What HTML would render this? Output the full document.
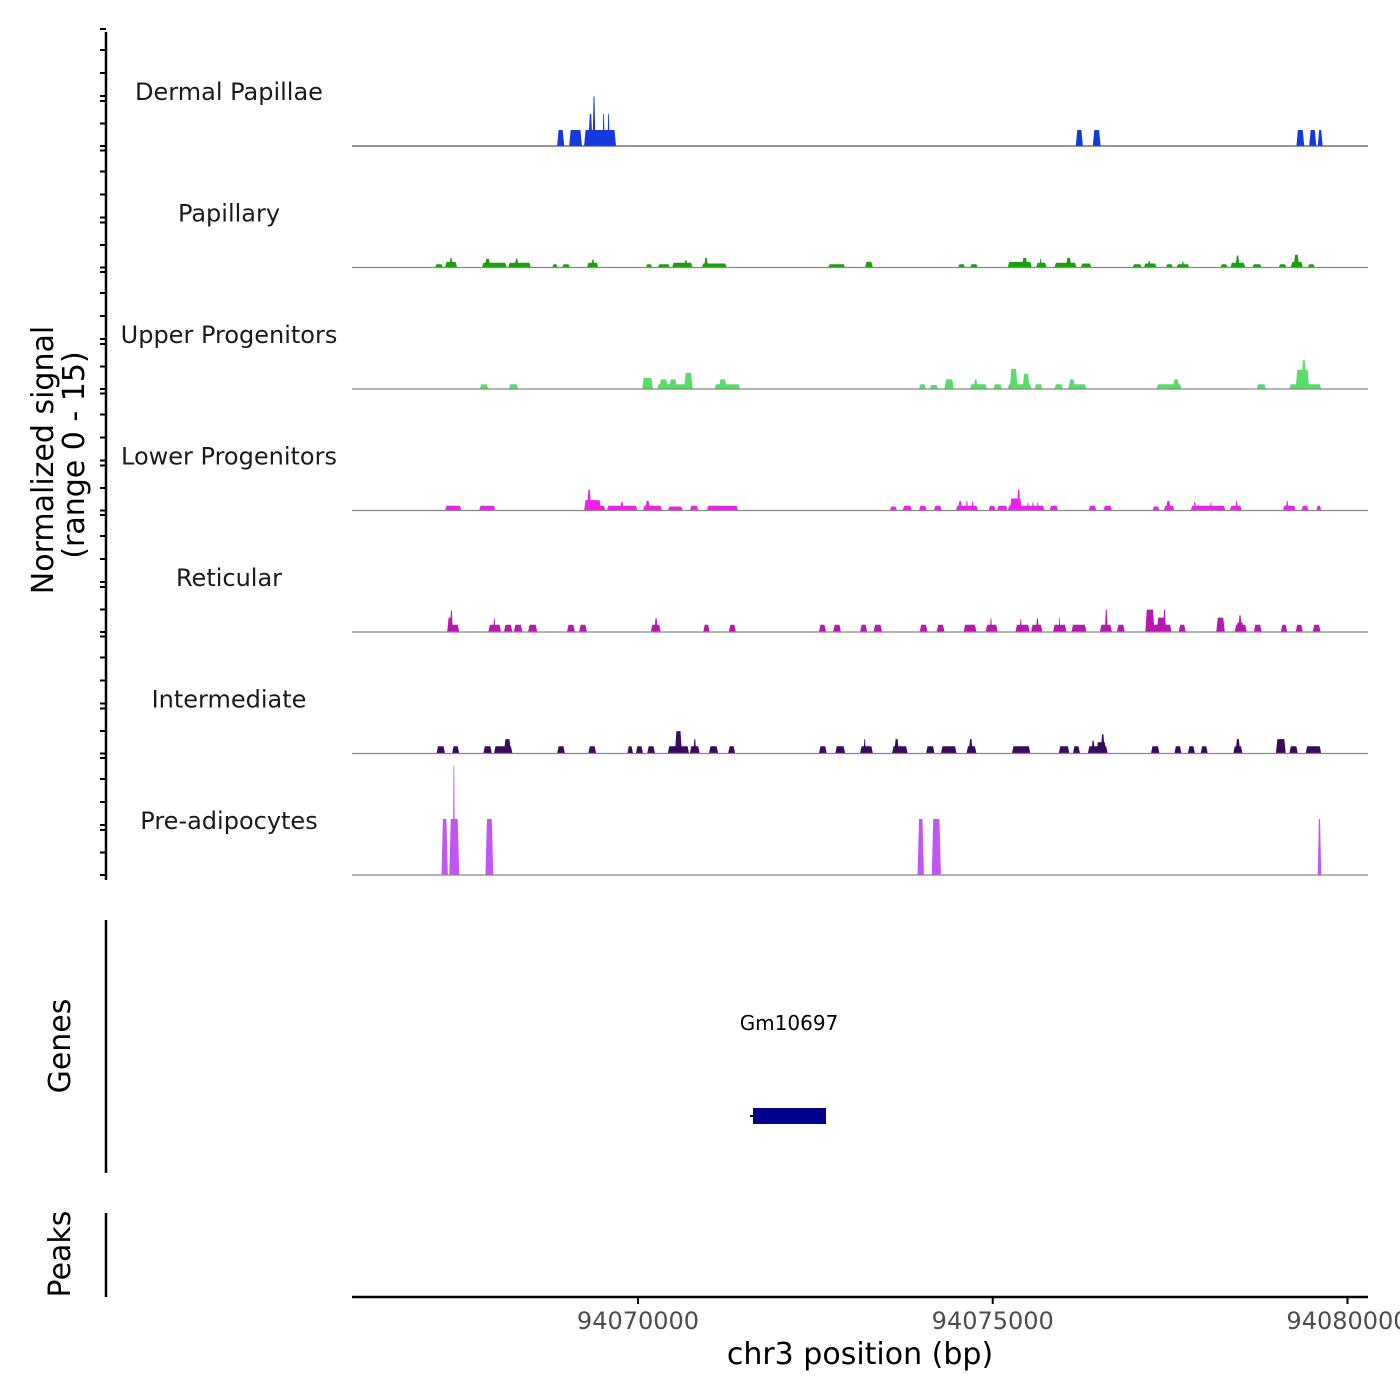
<!DOCTYPE html>
<html><head><meta charset="utf-8"><style>
html,body{margin:0;padding:0;background:#fff;}
svg{display:block;font-family:"DejaVu Sans","Liberation Sans",sans-serif;}
</style></head><body>
<svg id="chart" width="1400" height="1400" viewBox="0 0 1400 1400" xmlns="http://www.w3.org/2000/svg">
<g id="tracks"></g>
<g id="axes">
<text transform="translate(53,460) rotate(-90)" text-anchor="middle" font-size="30" fill="#000">Normalized signal</text>
<text transform="translate(84,455) rotate(-90)" text-anchor="middle" font-size="30" fill="#000">(range 0 - 15)</text>
<line x1="106" y1="32" x2="106" y2="880" stroke="#000" stroke-width="2.5"/>
<line x1="106" y1="920" x2="106" y2="1173" stroke="#000" stroke-width="2.5"/>
<text transform="translate(70,1046) rotate(-90)" text-anchor="middle" font-size="30" fill="#000">Genes</text>
<line x1="106" y1="1213" x2="106" y2="1297" stroke="#000" stroke-width="2.5"/>
<text transform="translate(70,1254) rotate(-90)" text-anchor="middle" font-size="30" fill="#000">Peaks</text>
<line x1="352" y1="1297" x2="1368" y2="1297" stroke="#000" stroke-width="2.5"/>
<text x="860" y="1364" text-anchor="middle" font-size="30" fill="#000">chr3 position (bp)</text>
<text x="789" y="1030" text-anchor="middle" font-size="20" fill="#000">Gm10697</text>
<rect x="753" y="1108" width="73" height="16" fill="#00008B"/>
<line x1="750" y1="1116" x2="753" y2="1116" stroke="#00008B" stroke-width="2"/>
</g>
<script>
// track names and colors
const trackNames = ["Dermal Papillae","Papillary","Upper Progenitors","Lower Progenitors","Reticular","Intermediate","Pre-adipocytes"];
const trackColors = ["#1539DB","#17A20A","#57DD6A","#F01FEE","#B718B0","#3A0A5E","#C256F4"];
// blocks: [start kb rel. 94070000, end kb, signal]
const dermalPapillae = [[-1.14,-1.04,2],[-0.97,-0.79,2],[-0.76,-0.31,2],[-0.70,-0.64,4],[-0.64,-0.60,6.2],[-0.50,-0.47,4],[-0.43,-0.40,4],[6.17,6.27,2],[6.41,6.52,2],[9.28,9.39,2],[9.46,9.56,2],[9.58,9.65,2]];
const papillary = [[-2.86,-2.75,0.4],[-2.72,-2.55,0.7],[-2.66,-2.61,1.2],[-2.20,-1.85,0.6],[-2.16,-2.08,1.1],[-1.83,-1.51,0.6],[-1.74,-1.68,1.1],[-1.21,-1.13,0.4],[-1.07,-0.96,0.4],[-0.72,-0.56,0.6],[-0.66,-0.61,1.0],[0.11,0.20,0.4],[0.28,0.45,0.4],[0.48,0.77,0.6],[0.65,0.70,0.9],[0.90,1.25,0.5],[0.93,0.99,1.2],[2.68,2.92,0.4],[3.20,3.31,0.7],[4.51,4.61,0.4],[4.68,4.79,0.4],[5.21,5.55,0.7],[5.41,5.49,1.2],[5.61,5.76,0.6],[5.66,5.69,1.1],[5.87,6.18,0.6],[6.03,6.11,1.2],[6.24,6.39,0.5],[6.97,7.10,0.4],[7.13,7.31,0.5],[7.18,7.23,0.8],[7.44,7.54,0.4],[7.59,7.77,0.4],[7.66,7.70,0.7],[8.21,8.31,0.4],[8.35,8.56,0.6],[8.42,8.48,1.5],[8.66,8.79,0.4],[9.03,9.14,0.4],[9.20,9.37,0.7],[9.24,9.32,1.6],[9.44,9.54,0.4]];
const upperProgenitors = [[-2.23,-2.11,0.6],[-1.82,-1.69,0.6],[0.06,0.21,1.4],[0.27,0.77,0.6],[0.30,0.42,1.2],[0.44,0.55,1.2],[0.65,0.77,2.0],[1.08,1.44,0.6],[1.14,1.25,1.2],[3.96,4.06,0.6],[4.11,4.23,0.5],[4.32,4.45,1.2],[4.68,4.92,0.6],[4.73,4.79,1.2],[5.01,5.13,0.6],[5.21,5.55,0.6],[5.24,5.35,2.5],[5.42,5.52,1.9],[5.59,5.70,0.6],[5.87,5.99,0.6],[6.06,6.32,0.6],[6.07,6.16,1.2],[7.31,7.66,0.6],[7.54,7.63,1.2],[8.72,8.85,0.6],[9.18,9.63,0.6],[9.27,9.46,2.4],[9.35,9.42,3.6]];
const lowerProgenitors = [[-2.72,-2.49,0.6],[-2.24,-2.01,0.6],[-0.76,-0.46,0.6],[-0.76,-0.52,1.3],[-0.72,-0.66,2.6],[-0.57,-0.54,1.2],[-0.44,-0.01,0.6],[-0.25,-0.20,1.1],[0.07,0.34,0.6],[0.10,0.17,1.2],[0.42,0.63,0.5],[0.73,0.85,0.6],[0.97,1.41,0.6],[3.55,3.65,0.5],[3.73,3.86,0.6],[3.96,4.07,0.6],[4.17,4.28,0.6],[4.48,4.79,0.6],[4.51,4.57,1.2],[4.62,4.65,1.2],[4.70,4.73,1.1],[4.94,5.04,0.6],[5.06,5.21,0.6],[5.21,5.73,0.6],[5.24,5.41,1.5],[5.34,5.39,2.6],[5.48,5.51,1.0],[5.55,5.58,1.0],[5.62,5.65,1.0],[5.80,5.92,0.6],[6.35,6.46,0.6],[6.56,6.68,0.6],[7.25,7.35,0.5],[7.41,7.56,0.6],[7.44,7.51,1.2],[7.79,8.28,0.6],[7.83,7.86,1.1],[8.06,8.09,1.0],[8.34,8.51,0.6],[8.42,8.45,1.2],[9.09,9.27,0.6],[9.13,9.17,1.2],[9.35,9.45,0.6],[9.56,9.63,0.6]];
const reticular = [[-2.69,-2.52,0.9],[-2.69,-2.62,1.8],[-2.65,-2.61,2.7],[-2.11,-1.93,0.9],[-2.04,-2.01,1.7],[-1.89,-1.77,0.9],[-1.75,-1.63,0.9],[-1.55,-1.42,0.9],[-1.00,-0.89,0.9],[-0.83,-0.72,0.9],[0.18,0.32,0.9],[0.23,0.28,1.7],[0.92,1.01,0.9],[1.28,1.38,0.9],[2.55,2.65,0.9],[2.75,2.86,0.9],[3.13,3.23,0.9],[3.32,3.44,0.9],[3.97,4.08,0.9],[4.21,4.32,0.9],[4.59,4.77,0.9],[4.90,5.07,0.9],[4.96,4.99,1.7],[5.32,5.52,0.9],[5.38,5.41,1.6],[5.54,5.70,0.9],[5.61,5.65,1.7],[5.85,6.04,0.9],[5.93,5.95,1.8],[6.11,6.32,0.9],[6.51,6.68,0.9],[6.58,6.62,2.8],[6.75,6.86,0.9],[7.15,7.52,0.9],[7.15,7.28,2.8],[7.31,7.45,1.8],[7.40,7.44,2.8],[7.62,7.72,0.9],[8.15,8.27,1.8],[8.41,8.58,0.9],[8.43,8.54,1.2],[8.46,8.51,2.1],[8.68,8.79,0.9],[9.06,9.15,0.9],[9.27,9.37,0.9],[9.51,9.62,0.9]];
const intermediate = [[-2.84,-2.72,0.9],[-2.62,-2.52,0.9],[-2.18,-2.06,0.9],[-2.03,-1.77,0.9],[-1.89,-1.79,1.8],[-1.14,-1.03,0.9],[-0.70,-0.59,0.9],[-0.15,-0.07,0.9],[-0.03,0.07,0.9],[0.13,0.24,0.9],[0.42,0.72,0.9],[0.52,0.62,2.8],[0.73,0.87,0.9],[0.78,0.82,1.8],[1.00,1.13,0.9],[1.27,1.37,0.9],[2.55,2.66,0.9],[2.78,2.92,0.9],[3.13,3.31,0.9],[3.18,3.21,1.8],[3.58,3.80,0.9],[3.61,3.68,1.8],[4.06,4.18,0.9],[4.27,4.49,0.9],[4.63,4.77,0.9],[4.66,4.72,1.8],[5.27,5.53,0.9],[5.93,6.08,0.9],[6.13,6.23,0.9],[6.34,6.62,0.9],[6.46,6.60,1.4],[6.39,6.44,1.6],[6.52,6.58,2.4],[7.23,7.35,0.9],[7.56,7.66,0.9],[7.75,7.85,0.9],[7.93,8.03,0.9],[8.39,8.52,0.9],[8.42,8.49,1.8],[8.99,9.13,1.8],[9.18,9.30,0.9],[9.41,9.63,0.9]];
const preAdipocytes = [[-2.77,-2.68,7],[-2.66,-2.52,7],[-2.61,-2.58,13.7],[-2.15,-2.04,7],[3.94,4.03,7],[4.14,4.27,7],[9.58,9.63,7]];
const trackData = [dermalPapillae,papillary,upperProgenitors,lowerProgenitors,reticular,intermediate,preAdipocytes];
const xTickValues = [94070000,94075000,94080000];
const xTickLabels = ["94070000","94075000","94080000"];

const NS = "http://www.w3.org/2000/svg";
const X0 = 352, X1 = 1368, ORIGIN = 94070000, ORIGIN_PX = 638, PX_PER_KB = 70.95;
function xScale(kb){ return ORIGIN_PX + kb * PX_PER_KB; }
function xScaleBp(bp){ return ORIGIN_PX + (bp - ORIGIN) / 1000 * PX_PER_KB; }
const PX_PER_UNIT = 8, FIRST_BASE = 146, TRACK_STEP = 121.5;
function yScale(base, v){ return base - v * PX_PER_UNIT; }
function mk(tag, attrs){ const e = document.createElementNS(NS, tag); for (const k in attrs) e.setAttribute(k, attrs[k]); return e; }

const tracks = document.getElementById('tracks');
const axes = document.getElementById('axes');
trackNames.forEach((name, i) => {
  const base = FIRST_BASE + i * TRACK_STEP;
  const g = mk('g', {});
  
  
  trackData[i].forEach(b => {
    const xa = xScale(b[0]), xb = xScale(b[1]);
    const inset = Math.min(1.5, (xb - xa) / 3);
    const yt = yScale(base, b[2]);
    const p = mk('polygon', {points: `${xa},${base} ${xa+inset},${yt} ${xb-inset},${yt} ${xb},${base}`, fill: trackColors[i]});
    
    
    g.appendChild(p);
  });
  const bl = mk('line', {x1: X0, x2: X1, y1: base, y2: base, stroke: i === 0 ? '#555' : '#888', 'stroke-width': 1.2});
  
  
  g.appendChild(bl);
  const t = mk('text', {x: 229, y: base - 46, 'text-anchor': 'middle', 'font-size': 24, fill: '#1a1a1a'});
  t.textContent = name;
  
  
  g.appendChild(t);
  [0, 22.5, 45, 50, 73, 96, 117].forEach(off => {
    const tk = mk('line', {x1: 100, x2: 106, y1: base - off, y2: base - off, stroke: '#000', 'stroke-width': 2});
    
    
    axes.appendChild(tk);
  });
  tracks.appendChild(g);
});
xTickValues.forEach((v, i) => {
  const x = xScaleBp(v);
  const tk = mk('line', {x1: x, x2: x, y1: 1297, y2: 1304, stroke: '#000', 'stroke-width': 2});
  
  
  axes.appendChild(tk);
  const lb = mk('text', {x: x, y: 1329, 'text-anchor': 'middle', 'font-size': 24, fill: '#4d4d4d'});
  lb.textContent = xTickLabels[i];
  
  
  axes.appendChild(lb);
});
</script>
</svg>
</body></html>
